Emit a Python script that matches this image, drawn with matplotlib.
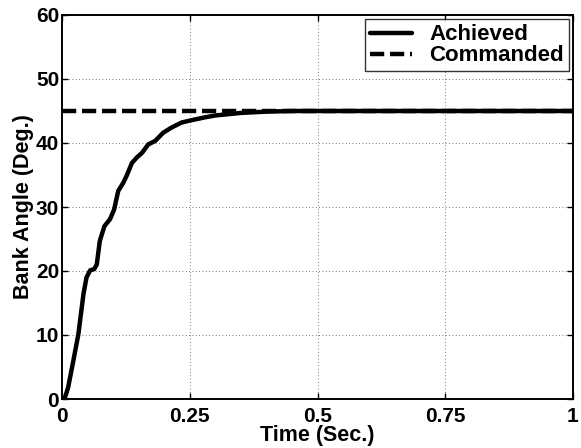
import numpy as np
import matplotlib
matplotlib.use("Agg")
import matplotlib.pyplot as plt

plt.rcParams['font.family'] = ['Liberation Sans', 'DejaVu Sans']
plt.rcParams['font.weight'] = 'bold'

# Achieved bank angle response (deg) vs time (s)
time_s = [0.0, 0.005, 0.012, 0.022, 0.032, 0.042, 0.048, 0.055, 0.063, 0.068,
          0.074, 0.083, 0.094, 0.102, 0.110, 0.120, 0.126, 0.137, 0.146, 0.157,
          0.169, 0.182, 0.198, 0.214, 0.234, 0.250, 0.279, 0.300, 0.350, 0.400,
          0.450, 0.500, 0.750, 1.0]
achieved = [0.0, 0.0, 1.8, 5.9, 10.1, 16.4, 19.0, 20.1, 20.3, 21.0,
            24.7, 27.0, 28.1, 29.6, 32.5, 33.8, 34.8, 36.9, 37.7, 38.5,
            39.8, 40.3, 41.6, 42.4, 43.2, 43.5, 44.0, 44.3, 44.7, 44.9,
            45.0, 45.0, 45.0, 45.0]
commanded_time = [0.0, 1.0]
commanded = [45.0, 45.0]

x_ticks = [0, 0.25, 0.5, 0.75, 1]
x_tick_labels = ['0', '0.25', '0.5', '0.75', '1']
y_ticks = [0, 10, 20, 30, 40, 50, 60]

fig = plt.figure(figsize=(5.81, 4.48), dpi=100)
ax = fig.add_axes([62 / 581, 1 - 399 / 448, (573 - 62) / 581, (399 - 15) / 448])

ax.plot(time_s, achieved, color='black', lw=3.2, solid_joinstyle='round',
        solid_capstyle='round', label='Achieved')
ax.plot(commanded_time, commanded, color='black', lw=3.2, ls=(0, (3.2, 1.3)),
        label='Commanded')

ax.set_xlim(0, 1)
ax.set_ylim(0, 60)
ax.set_xticks(x_ticks)
ax.set_xticklabels(x_tick_labels)
ax.set_yticks(y_ticks)
ax.tick_params(direction='in', length=4, width=1, labelsize=15,
               top=True, right=True)
ax.tick_params(axis='x', pad=6)
ax.tick_params(axis='y', pad=2)
for lab in ax.get_xticklabels() + ax.get_yticklabels():
    lab.set_fontweight('bold')
for s in ax.spines.values():
    s.set_linewidth(1.4)

ax.grid(True, ls=(0, (1, 3)), color='black', lw=0.6, alpha=0.7)

ax.set_xlabel('Time (Sec.)', fontsize=15.5, fontweight='bold', labelpad=-1)
ax.set_ylabel('Bank Angle (Deg.)', fontsize=15.5, fontweight='bold', labelpad=1)

leg = ax.legend(loc='upper right', fontsize=16, frameon=True, fancybox=False,
                edgecolor='black', handlelength=1.9, borderpad=0.22,
                labelspacing=0.0, handletextpad=0.75, borderaxespad=0.2)
leg.get_frame().set_linewidth(1.0)
for t in leg.get_texts():
    t.set_fontweight('bold')

fig.savefig('out.png', dpi=100, facecolor='white')
